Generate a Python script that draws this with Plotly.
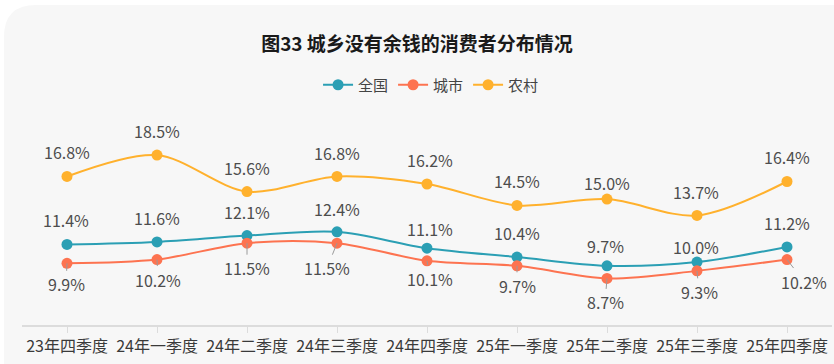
import plotly.graph_objects as go

categories = ["23年四季度", "24年一季度", "24年二季度", "24年三季度", "24年四季度",
              "25年一季度", "25年二季度", "25年三季度", "25年四季度"]
national = [11.4, 11.6, 12.1, 12.4, 11.1, 10.4, 9.7, 10.0, 11.2]
urban = [9.9, 10.2, 11.5, 11.5, 10.1, 9.7, 8.7, 9.3, 10.2]
rural = [16.8, 18.5, 15.6, 16.8, 16.2, 14.5, 15.0, 13.7, 16.4]
series_names = ["全国", "城市", "农村"]
title_text = "图33 城乡没有余钱的消费者分布情况"

# label nudges (pixels) – layout only
nat_dx = [-1, 0, 0, 0, 3, 0, -2, -1, 0]
nat_dy = [24, 24, 24, 23, 19, 24, 20, 15, 24]
rur_dx = [0, 0, 0, 0, 3, 0, 0, -1, 0]
rur_dy = [24, 24, 24, 23, 24, 24, 16, 23, 24]
urb_dx = [-1, 1, 0, -10, 3, 0, -2, 2, 17]
urb_dy = [21, 20, 25, 25, 18, 20, 24, 21, 22]

colors = ["#2b9fb4", "#fd7350", "#ffb12d"]
FONT = "Noto Sans CJK SC, Microsoft YaHei, sans-serif"
LABEL_COLOR = "#4d4d4d"

x_idx = list(range(len(categories)))
fig = go.Figure()
for name, vals, col in zip(series_names, [national, urban, rural], colors):
    fig.add_trace(go.Scatter(
        x=x_idx, y=vals, name=name, mode="lines+markers",
        line=dict(color=col, width=2, shape="spline", smoothing=0.9),
        marker=dict(color=col, size=11),
        hoverinfo="skip",
    ))

annotations = []
for i, v in enumerate(national):
    annotations.append(dict(x=i, y=v, text=f"{v:.1f}%", showarrow=False,
                            xshift=nat_dx[i], yshift=nat_dy[i],
                            font=dict(size=16, color=LABEL_COLOR, family=FONT)))
for i, v in enumerate(rural):
    annotations.append(dict(x=i, y=v, text=f"{v:.1f}%", showarrow=False,
                            xshift=rur_dx[i], yshift=rur_dy[i],
                            font=dict(size=16, color=LABEL_COLOR, family=FONT)))
for i, v in enumerate(urban):
    annotations.append(dict(x=i, y=v, text=f"{v:.1f}%", showarrow=True,
                            arrowhead=0, arrowwidth=1, arrowcolor="#9a9a9a",
                            ax=urb_dx[i], ay=urb_dy[i], standoff=0,
                            font=dict(size=16, color=LABEL_COLOR, family=FONT)))

# rounded card background (paper coords)
L, R, T, B = 22, 832, 111, 325
W, H = R - L, B - T
def px(xp):
    return (xp - L) / W
def py(yp):
    return (B - yp) / H
r = 32
cx0, cy0, cx1, cy1 = 4, 5, 840, 370
path = (f"M {px(cx0)},{py(cy1)} L {px(cx0)},{py(cy0 + r)} "
        f"Q {px(cx0)},{py(cy0)} {px(cx0 + r)},{py(cy0)} "
        f"L {px(cx1)},{py(cy0)} L {px(cx1)},{py(cy1)} Z")

fig.update_layout(
    width=834, height=364,
    margin=dict(l=L, r=834 - R, t=T, b=364 - B),
    paper_bgcolor="#ffffff", plot_bgcolor="rgba(0,0,0,0)",
    font=dict(family=FONT, color="#333333"),
    title=dict(text=f"<b>{title_text}</b>", x=0.5, xanchor="center",
               y=1 - 44 / 364, yanchor="middle",
               font=dict(size=19, color="#1a1a1a", family=FONT)),
    legend=dict(orientation="h", x=0.505, xanchor="center", y=1 - 85 / 364,
                yref="container", yanchor="middle",
                font=dict(size=15, color="#444444", family=FONT),
                bgcolor="rgba(0,0,0,0)", itemwidth=30),
    showlegend=True,
    shapes=[dict(type="path", path=path, xref="paper", yref="paper",
                 fillcolor="#f7f7f7", line=dict(width=0), layer="below")],
    annotations=annotations,
    xaxis=dict(range=[-0.5, len(categories) - 0.5], tickmode="array",
               tickvals=x_idx, ticktext=categories, tickson="boundaries",
               ticks="outside", ticklen=6, tickcolor="#dcdcdc",
               showline=True, linecolor="#dcdcdc", linewidth=1.5,
               showgrid=False, zeroline=False,
               tickfont=dict(size=16, color="#3a3a3a", family=FONT)),
    yaxis=dict(range=[5, 22], visible=False, showgrid=False, zeroline=False),
)

fig.write_html("out.html", config={"displayModeBar": False},
               post_script="document.body.style.margin='0';")
